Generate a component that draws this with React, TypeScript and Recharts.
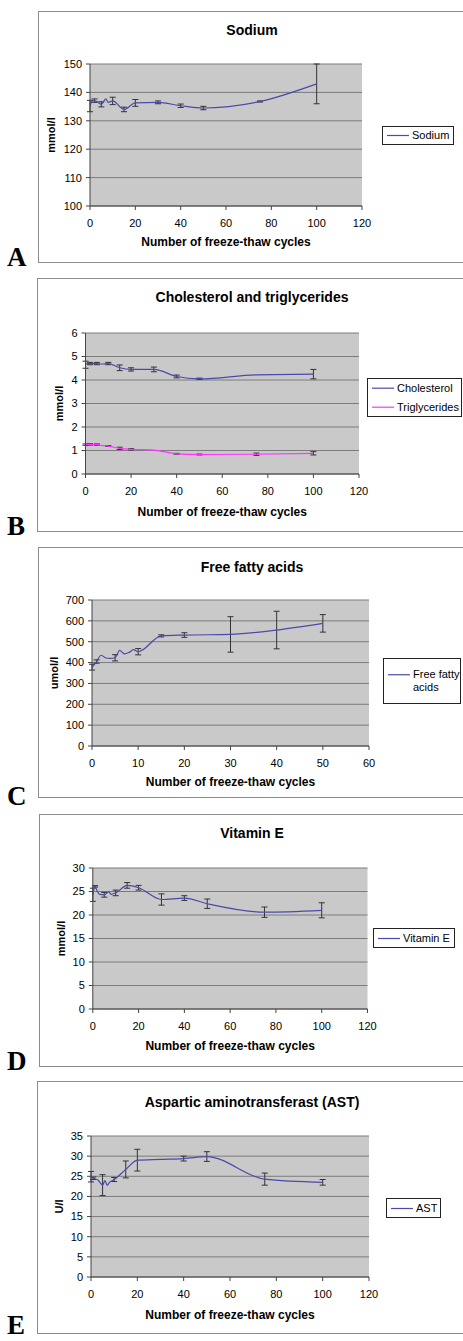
import React from 'react';
import { LineChart, Line, XAxis, YAxis, CartesianGrid, ErrorBar, Legend, Label } from 'recharts';

const FONT = '"Liberation Sans", Arial, Helvetica, sans-serif';
const SERIF = '"Liberation Serif", "Times New Roman", serif';
const NAVY = '#4a4aaa';
const MAGENTA = '#ff33ff';

// ---------- data ----------
const cycleTicks120 = [0, 20, 40, 60, 80, 100, 120];
const cycleTicks60 = [0, 10, 20, 30, 40, 50, 60];

// A: Sodium
const sodiumCycles = [0, 1, 2, 3, 5, 7, 8, 10, 15, 20, 30, 40, 50, 75, 100];
const sodiumValues = [135.2, 137.0, 137.1, 136.8, 135.8, 137.7, 136.5, 137.0, 134.0, 136.3, 136.5, 135.3, 134.5, 136.8, 143.0];
const sodiumErrors = [2.0, null, 0.6, null, 0.9, null, null, 1.3, 0.8, 1.2, 0.5, 0.6, 0.6, 0.2, 7.0];
const sodiumTicks = [100, 110, 120, 130, 140, 150];

// B: Cholesterol and triglycerides
const lipidCycles = [0, 1, 2, 5, 7, 10, 15, 20, 30, 40, 50, 75, 100];
const cholesterolValues = [4.65, 4.72, 4.7, 4.7, 4.68, 4.7, 4.52, 4.45, 4.45, 4.15, 4.05, 4.22, 4.25];
const cholesterolErrors = [0.15, null, 0.05, 0.05, null, 0.05, 0.12, 0.07, 0.1, 0.06, 0.03, null, 0.2];
const triglycerideValues = [1.25, 1.26, 1.26, 1.25, 1.22, 1.19, 1.09, 1.05, 1.02, 0.86, 0.83, 0.84, 0.88];
const triglycerideErrors = [0.03, null, 0.03, 0.03, null, 0.02, 0.05, 0.03, null, 0.02, 0.02, 0.05, 0.07];
const lipidTicks = [0, 1, 2, 3, 4, 5, 6];

// C: Free fatty acids
const ffaCycles = [0, 1, 2, 3, 4, 5, 6, 7, 8, 9, 10, 15, 20, 30, 40, 50];
const ffaValues = [378, 405, 435, 422, 420, 423, 458, 442, 448, 462, 452, 528, 532, 535, 556, 588];
const ffaErrors = [14, 8, null, null, null, 15, null, null, null, null, 15, 5, 11, 85, 90, 42];
const ffaTicks = [0, 100, 200, 300, 400, 500, 600, 700];

// D: Vitamin E
const vitECycles = [0, 1, 2, 3, 5, 7, 8, 10, 15, 20, 30, 40, 50, 75, 100];
const vitEValues = [24.3, 26.1, 25.0, 24.4, 24.3, 24.9, 24.4, 24.7, 26.3, 25.8, 23.3, 23.6, 22.4, 20.6, 21.0];
const vitEErrors = [1.4, 0.15, null, null, 0.5, null, null, 0.6, 0.6, 0.5, 1.2, 0.5, 1.0, 1.1, 1.6];
const vitETicks = [0, 5, 10, 15, 20, 25, 30];

// E: AST
const astCycles = [0, 1, 3, 5, 6, 7, 8, 10, 15, 20, 30, 40, 50, 75, 100];
const astValues = [24.9, 24.5, 24.1, 22.8, 23.9, 22.8, 23.5, 24.2, 26.7, 29.0, 29.2, 29.4, 29.9, 24.3, 23.5];
const astErrors = [1.3, 0.3, null, 2.6, null, null, null, 0.5, 2.1, 2.7, null, 0.6, 1.2, 1.5, 0.7];
const astTicks = [0, 5, 10, 15, 20, 25, 30, 35];

const sodiumData = sodiumCycles.map((x, i) => ({ x, v: sodiumValues[i], e: sodiumErrors[i] }));
const lipidData = lipidCycles.map((x, i) => ({
  x,
  chol: cholesterolValues[i],
  cholE: cholesterolErrors[i],
  tg: triglycerideValues[i],
  tgE: triglycerideErrors[i],
}));
const ffaData = ffaCycles.map((x, i) => ({ x, v: ffaValues[i], e: ffaErrors[i] }));
const vitEData = vitECycles.map((x, i) => ({ x, v: vitEValues[i], e: vitEErrors[i] }));
const astData = astCycles.map((x, i) => ({ x, v: astValues[i], e: astErrors[i] }));

// ---------- layout ----------
type Box = { l: number; t: number; w: number; h: number };
type Plot = { l: number; r: number; t: number; b: number };
type Series = { key: string; errKey: string; name: string; color: string };

type PanelCfg = {
  letter: string;
  letterY: number;
  frame: Box;
  plot: Plot;
  title: string;
  titleY: number;
  yLabel: string;
  yLabelX: number;
  xLabelY: number;
  xDomain: [number, number];
  xTicks: number[];
  yDomain: [number, number];
  yTicks: number[];
  data: any[];
  series: Series[];
  legend: Box & { lineHeight: number; textWidth: number };
};

const XLABEL = 'Number of freeze-thaw cycles';

const panels: PanelCfg[] = [
  {
    letter: 'A', letterY: 266,
    frame: { l: 38, t: 11, w: 428, h: 252 },
    plot: { l: 90, r: 362, t: 64, b: 206 },
    title: 'Sodium', titleY: 30,
    yLabel: 'mmol/l', yLabelX: 51, xLabelY: 242,
    xDomain: [0, 120], xTicks: cycleTicks120,
    yDomain: [100, 150], yTicks: sodiumTicks,
    data: sodiumData,
    series: [{ key: 'v', errKey: 'e', name: 'Sodium', color: NAVY }],
    legend: { l: 382, t: 126, w: 72, h: 19, lineHeight: 17, textWidth: 60 },
  },
  {
    letter: 'B', letterY: 535,
    frame: { l: 37, t: 278, w: 430, h: 254 },
    plot: { l: 85.5, r: 359, t: 333, b: 474 },
    title: 'Cholesterol and triglycerides', titleY: 297,
    yLabel: 'mmol/l', yLabelX: 59, xLabelY: 511.5,
    xDomain: [0, 120], xTicks: cycleTicks120,
    yDomain: [0, 6], yTicks: lipidTicks,
    data: lipidData,
    series: [
      { key: 'chol', errKey: 'cholE', name: 'Cholesterol', color: NAVY },
      { key: 'tg', errKey: 'tgE', name: 'Triglycerides', color: MAGENTA },
    ],
    legend: { l: 367, t: 378, w: 95, h: 39, lineHeight: 18.4, textWidth: 70 },
  },
  {
    letter: 'C', letterY: 805,
    frame: { l: 38, t: 547, w: 428, h: 251 },
    plot: { l: 92, r: 369, t: 600, b: 746 },
    title: 'Free fatty acids', titleY: 566.5,
    yLabel: 'umol/l', yLabelX: 53.5, xLabelY: 782,
    xDomain: [0, 60], xTicks: cycleTicks60,
    yDomain: [0, 700], yTicks: ffaTicks,
    data: ffaData,
    series: [{ key: 'v', errKey: 'e', name: 'Free fatty acids', color: NAVY }],
    legend: { l: 383, t: 658, w: 78, h: 46, lineHeight: 13.5, textWidth: 50 },
  },
  {
    letter: 'D', letterY: 1070,
    frame: { l: 38.5, t: 814, w: 427, h: 253 },
    plot: { l: 92.3, r: 367, t: 868, b: 1009 },
    title: 'Vitamin E', titleY: 833,
    yLabel: 'mmol/l', yLabelX: 60, xLabelY: 1046,
    xDomain: [0, 120], xTicks: cycleTicks120,
    yDomain: [0, 30], yTicks: vitETicks,
    data: vitEData,
    series: [{ key: 'v', errKey: 'e', name: 'Vitamin E', color: NAVY }],
    legend: { l: 373, t: 928, w: 82, h: 20, lineHeight: 17, textWidth: 60 },
  },
  {
    letter: 'E', letterY: 1334,
    frame: { l: 37, t: 1081, w: 430, h: 253 },
    plot: { l: 91, r: 369, t: 1136, b: 1277 },
    title: 'Aspartic aminotransferast (AST)', titleY: 1101.5,
    yLabel: 'U/l', yLabelX: 58.5, xLabelY: 1315,
    xDomain: [0, 120], xTicks: cycleTicks120,
    yDomain: [0, 35], yTicks: astTicks,
    data: astData,
    series: [{ key: 'v', errKey: 'e', name: 'AST', color: NAVY }],
    legend: { l: 386, t: 1198, w: 55, h: 20, lineHeight: 17, textWidth: 40 },
  },
];

const tickStyle = { fontSize: 11, fill: '#000', fontFamily: FONT };

function makeLegend(cfg: PanelCfg) {
  const lg = cfg.legend;
  return (props: any) => {
    const items =
      props && props.payload && props.payload.length
        ? props.payload.map((p: any) => ({ name: p.value, color: p.color }))
        : cfg.series.map((s) => ({ name: s.name, color: s.color }));
    return (
      <div
        style={{
          boxSizing: 'border-box',
          width: lg.w,
          height: lg.h,
          border: '1px solid #222',
          background: '#fff',
          display: 'flex',
          flexDirection: 'column',
          justifyContent: 'center',
          paddingLeft: 3,
          fontFamily: FONT,
          fontSize: 11,
          color: '#000',
        }}
      >
        {items.map((it: any, i: number) => (
          <div key={i} style={{ display: 'flex', alignItems: 'flex-start' }}>
            <svg width={26} height={lg.lineHeight} style={{ flex: 'none' }}>
              <line x1={1} x2={23} y1={lg.lineHeight / 2} y2={lg.lineHeight / 2} stroke={it.color} strokeWidth={1.2} />
            </svg>
            <span style={{ lineHeight: `${lg.lineHeight}px`, width: lg.textWidth, whiteSpace: 'normal' }}>{it.name}</span>
          </div>
        ))}
      </div>
    );
  };
}

function Panel({ cfg }: { cfg: PanelCfg }) {
  const { frame, plot } = cfg;
  const margin = { top: plot.t - frame.t, right: frame.w - (plot.r - frame.l), bottom: 0, left: 0 };
  const yAxisW = plot.l - frame.l;
  const xAxisH = frame.h - (plot.b - frame.t);
  const cx = (plot.l + plot.r) / 2 - frame.l;
  const cy = (plot.t + plot.b) / 2 - frame.t;
  const ylx = cfg.yLabelX - frame.l;
  const xly = cfg.xLabelY - frame.t;
  return (
    <>
      <div
        style={{
          position: 'absolute',
          left: frame.l,
          top: frame.t,
          width: frame.w,
          height: frame.h,
          boxSizing: 'border-box',
          border: '1px solid #8c8c8c',
          background: '#fff',
        }}
      />
      <div style={{ position: 'absolute', left: frame.l, top: frame.t }}>
        <LineChart width={frame.w} height={frame.h} data={cfg.data} margin={margin}>
          <CartesianGrid vertical={false} stroke="#7c7c7c" fill="#c9c9c9" fillOpacity={1} />
          <XAxis
            type="number"
            dataKey="x"
            domain={cfg.xDomain}
            ticks={cfg.xTicks}
            allowDataOverflow
            interval={0}
            height={xAxisH}
            tickSize={4}
            tickMargin={9}
            tick={tickStyle}
            stroke="#444"
          >
            <Label
              content={() => (
                <text
                  x={cx}
                  y={xly}
                  textAnchor="middle"
                  dominantBaseline="central"
                  style={{ fontFamily: FONT, fontSize: 12, fontWeight: 'bold' }}
                  fill="#000"
                >
                  {XLABEL}
                </text>
              )}
            />
          </XAxis>
          <YAxis
            type="number"
            domain={cfg.yDomain}
            ticks={cfg.yTicks}
            allowDataOverflow
            interval={0}
            width={yAxisW}
            tickSize={4}
            tickMargin={4}
            tick={tickStyle}
            stroke="#444"
          >
            <Label
              content={() => (
                <text
                  x={ylx}
                  y={cy}
                  transform={`rotate(-90 ${ylx} ${cy})`}
                  textAnchor="middle"
                  dominantBaseline="central"
                  style={{ fontFamily: FONT, fontSize: 11, fontWeight: 'bold' }}
                  fill="#000"
                >
                  {cfg.yLabel}
                </text>
              )}
            />
          </YAxis>
          <Legend
            layout="horizontal"
            verticalAlign="middle"
            align="center"
            content={makeLegend(cfg)}
            wrapperStyle={{
              left: cfg.legend.l - frame.l,
              top: cfg.legend.t - frame.t,
              width: cfg.legend.w,
              height: cfg.legend.h,
            }}
          />
          {cfg.series.map((s) => (
            <Line
              key={s.key}
              type="monotone"
              dataKey={s.key}
              name={s.name}
              stroke={s.color}
              strokeWidth={1.2}
              dot={false}
              activeDot={false}
              isAnimationActive={false}
            >
              <ErrorBar dataKey={s.errKey} width={3} stroke="#333" strokeWidth={1} direction="y" isAnimationActive={false} />
            </Line>
          ))}
        </LineChart>
      </div>
    </>
  );
}

export default function App() {
  return (
    <div
      style={{
        position: 'absolute',
        left: 0,
        top: 0,
        width: 463,
        height: 1341,
        overflow: 'hidden',
        background: '#fff',
      }}
    >
      {panels.map((p) => (
        <Panel key={p.letter} cfg={p} />
      ))}
      <svg
        width={463}
        height={1341}
        style={{ position: 'absolute', left: 0, top: 0, pointerEvents: 'none' }}
      >
        {panels.map((p) => (
          <g key={p.letter}>
            <text
              x={252}
              y={p.titleY}
              textAnchor="middle"
              dominantBaseline="central"
              style={{ fontFamily: FONT, fontSize: 14, fontWeight: 'bold' }}
              fill="#000"
            >
              {p.title}
            </text>
            <text x={7} y={p.letterY} style={{ fontFamily: SERIF, fontSize: 27, fontWeight: 'bold' }} fill="#000">
              {p.letter}
            </text>
          </g>
        ))}
      </svg>
    </div>
  );
}
